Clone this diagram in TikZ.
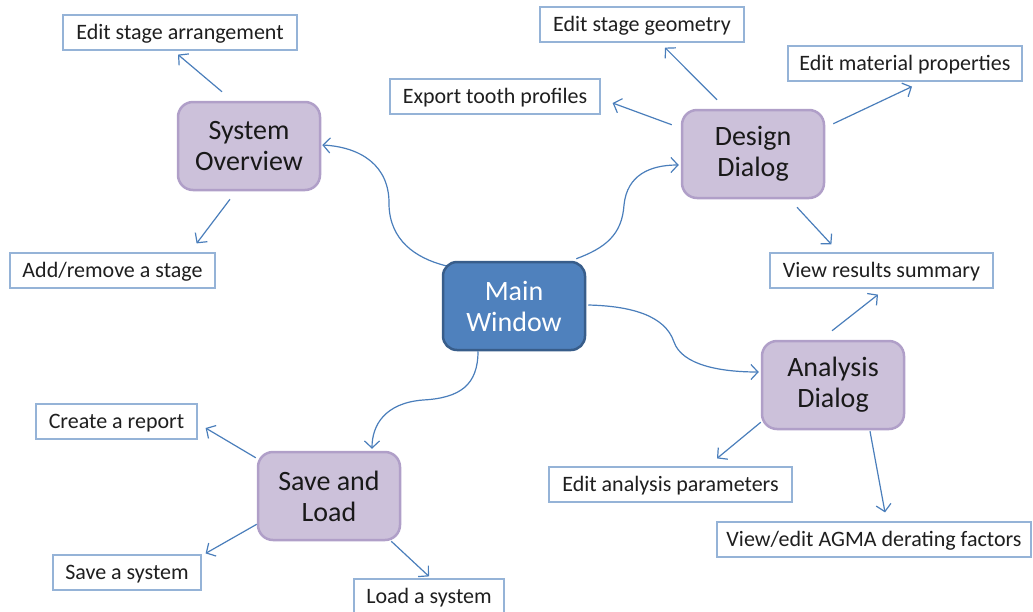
\documentclass[tikz,border=0pt]{standalone}
\usepackage{fontspec}
\setmainfont{Carlito}
\usetikzlibrary{arrows.meta}
\definecolor{mainfill}{HTML}{4F81BD}
\definecolor{mainline}{HTML}{385D8A}
\definecolor{purfill}{HTML}{CCC1DA}
\definecolor{purline}{HTML}{B09FC8}
\definecolor{labline}{HTML}{95B3D7}
\definecolor{connblue}{HTML}{4A7EBB}
\begin{document}
\begin{tikzpicture}[x=1pt,y=-1pt,
 mainbox/.style={draw=mainline, fill=mainfill, line width=2.5pt, rounded corners=14pt, minimum width=142pt, minimum height=88pt, inner sep=0pt, align=center, text=white, font=\fontsize{28}{31}\selectfont},
 topic/.style={draw=purline, fill=purfill, line width=2.5pt, rounded corners=15pt, minimum width=142pt, minimum height=88pt, inner sep=0pt, align=center, text=black!90, font=\fontsize{28}{31}\selectfont},
 leaf/.style={draw=labline, fill=white, line width=1.2pt, minimum height=35pt, inner sep=0pt, text height=18pt, text depth=5pt, font=\fontsize{22}{25}\selectfont, text=black!88},
 arrow/.style={draw=connblue, line width=1.2pt, -{Straight Barb[length=7pt,width=15pt]}}]
\useasboundingbox (0,0) rectangle (1033,611);
% central and topic nodes
\node[mainbox] (main) at (514,306) {Main\\Window};
\node[topic] (sysov) at (249,146) {System\\Overview};
\node[topic] (design) at (753,154) {Design\\Dialog};
\node[topic] (analysis) at (833,385) {Analysis\\Dialog};
\node[topic] (save) at (329,496) {Save and\\Load};
% leaves
\node[leaf, minimum width=234pt] (arr) at (180,32.5) {Edit stage arrangement};
\node[leaf, minimum width=205pt] (add) at (112.5,270.5) {Add/remove a stage};
\node[leaf, minimum width=204pt] (geo) at (642,24.5) {Edit stage geometry};
\node[leaf, minimum width=210pt] (exp) at (495,96.5) {Export tooth profiles};
\node[leaf, minimum width=234pt] (mat) at (905,63.5) {Edit material properties};
\node[leaf, minimum width=223pt] (view) at (881.5,270.5) {View results summary};
\node[leaf, minimum width=243pt] (par) at (670.5,484.5) {Edit analysis parameters};
\node[leaf, minimum width=314pt] (agma) at (874,539.5) {View/edit AGMA derating factors};
\node[leaf, minimum width=161pt] (rep) at (116.5,421.5) {Create a report};
\node[leaf, minimum width=148pt] (savs) at (127,572.5) {Save a system};
\node[leaf, minimum width=150pt] (load) at (429,596.5) {Load a system};
% curved connectors from main
\draw[arrow] ([shift={(4,5)}]main.north west) .. controls (415,258) and (390,240) .. (389,205) .. controls (390,165) and (360,147) .. ([shift={(1,-1)}]sysov.east);
\draw[arrow] ([shift={(-10,-2)}]main.north east) .. controls (605,248) and (622,235) .. (624,205) .. controls (627,175) and (650,165) .. ([shift={(-2,11)}]design.west);
\draw[arrow] ([shift={(2,-1)}]main.east) .. controls (630,306) and (665,315) .. (674,342) .. controls (682,365) and (720,372) .. ([shift={(-2,-13)}]analysis.west);
\draw[arrow] ([shift={(-36,0)}]main.south) .. controls (478,385) and (460,398) .. (423,400) .. controls (385,403) and (372,425) .. ([shift={(43,-2)}]save.north);
% straight connectors
\draw[arrow] ([shift={(-27,-9)}]sysov.north) -- ([shift={(-2,4)}]arr.south);
\draw[arrow] ([shift={(-19,8)}]sysov.south) -- ([shift={(-19,-9)}]add.north east);
\draw[arrow] ([shift={(-36,-9)}]design.north) -- ([shift={(23,5)}]geo.south);
\draw[arrow] ([shift={(-9,16)}]design.north west) -- ([shift={(12,6.5)}]exp.east);
\draw[arrow] ([shift={(8,15)}]design.north east) -- ([shift={(7,5)}]mat.south);
\draw[arrow] ([shift={(44,8)}]design.south) -- ([shift={(62,-8)}]view.north west);
\draw[arrow] ([shift={(-1,-9)}]analysis.north) -- ([shift={(-3.5,6)}]view.south);
\draw[arrow] ([shift={(0,-8)}]analysis.south west) -- ([shift={(46.5,-8)}]par.north);
\draw[arrow] ([shift={(37,1)}]analysis.south) -- ([shift={(11,-9)}]agma.north);
\draw[arrow] ([shift={(-1,7)}]save.north west) -- ([shift={(8,6.5)}]rep.east);
\draw[arrow] ([shift={(0,-17)}]save.south west) -- ([shift={(4,-1)}]savs.north east);
\draw[arrow] ([shift={(-10,0)}]save.south east) -- ([shift={(0,-2)}]load.north);
\end{tikzpicture}
\end{document}
